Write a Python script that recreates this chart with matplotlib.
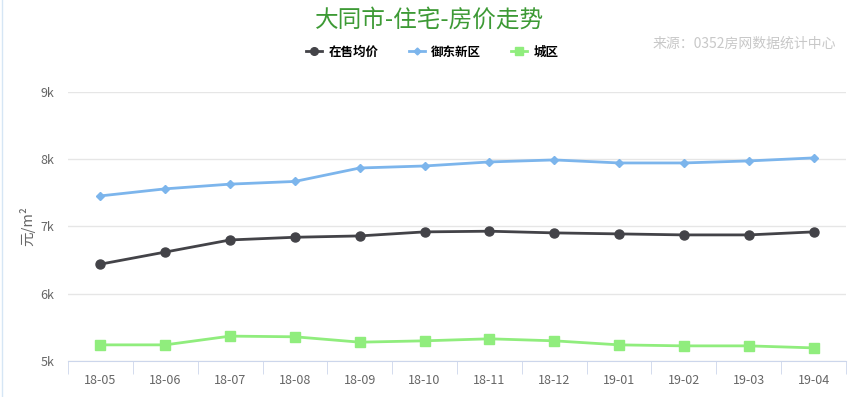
import numpy as np
import matplotlib.pyplot as plt
from matplotlib.lines import Line2D

plt.rcParams['font.family'] = ['Noto Sans CJK SC', 'DejaVu Sans']

# Data
months = ['18-05', '18-06', '18-07', '18-08', '18-09', '18-10',
          '18-11', '18-12', '19-01', '19-02', '19-03', '19-04']
avg_price = [6440, 6620, 6800, 6840, 6860, 6920, 6930, 6905, 6890, 6875, 6875, 6920]
yudong = [7455, 7560, 7630, 7670, 7870, 7900, 7960, 7990, 7945, 7945, 7975, 8020]
chengqu = [5240, 5240, 5370, 5360, 5280, 5300, 5330, 5300, 5240, 5225, 5225, 5195]
series_names = ['在售均价', '御东新区', '城区']
yticks = [5000, 6000, 7000, 8000, 9000]

colors = ['#434348', '#7cb5ec', '#90ed7d']
markers = ['o', 'D', 's']
msizes = [6.5, 4.5, 6.5]

fig = plt.figure(figsize=(8.56, 3.97), dpi=100)
ax = fig.add_axes([68 / 856, 1 - 361 / 397, 778 / 856, 269 / 397])

x = np.arange(len(months))
for vals, c, m, ms, name in zip([avg_price, yudong, chengqu], colors, markers, msizes, series_names):
    ax.plot(x, vals, color=c, lw=2, marker=m, markersize=ms, label=name, zorder=3)

ax.set_xlim(-0.5, len(months) - 0.5)
ax.set_ylim(5000, 9000)
ax.set_yticks(yticks)
ax.set_yticklabels([f'{v // 1000}k' for v in yticks], color='#666666', fontsize=9)
ax.grid(axis='y', color='#e6e6e6', lw=1)
ax.set_axisbelow(True)

ax.set_xticks(x)
ax.set_xticklabels(months, color='#666666', fontsize=9)
ax.set_xticks(np.arange(len(months) + 1) - 0.5, minor=True)
ax.tick_params(axis='x', which='major', length=0, pad=9)
ax.tick_params(axis='x', which='minor', length=9, color='#ccd6eb')
ax.tick_params(axis='y', length=0, pad=10)

for s in ['top', 'right', 'left']:
    ax.spines[s].set_visible(False)
ax.spines['bottom'].set_color('#ccd6eb')

ax.set_ylabel('元/m²', color='#666666', fontsize=10.5)
ax.yaxis.set_label_coords((35 - 68) / 778, 0.5)

fig.text(0.502, 1 - 20 / 397, '大同市-住宅-房价走势', ha='center', va='center',
         fontsize=17, color='#3d9a35')
fig.text(836 / 856, 1 - 44 / 397, '来源：0352房网数据统计中心', ha='right', va='center',
         fontsize=10, color='#c8c8c8')

handles = [Line2D([0], [0], color=c, lw=2, marker=m, markersize=ms - 1)
           for c, m, ms in zip(colors, markers, msizes)]
fig.legend(handles, series_names, loc='center', bbox_to_anchor=(0.505, 1 - 52 / 397),
           ncol=3, frameon=False, handlelength=1.3, columnspacing=2.4,
           handletextpad=0.5, prop={'weight': 'bold', 'size': 9})

# light page border on the left
fig.add_artist(Line2D([2 / 856, 2 / 856], [0, 1], color='#d6e6f5', lw=1))

fig.savefig('out.png', dpi=100, facecolor='white')
